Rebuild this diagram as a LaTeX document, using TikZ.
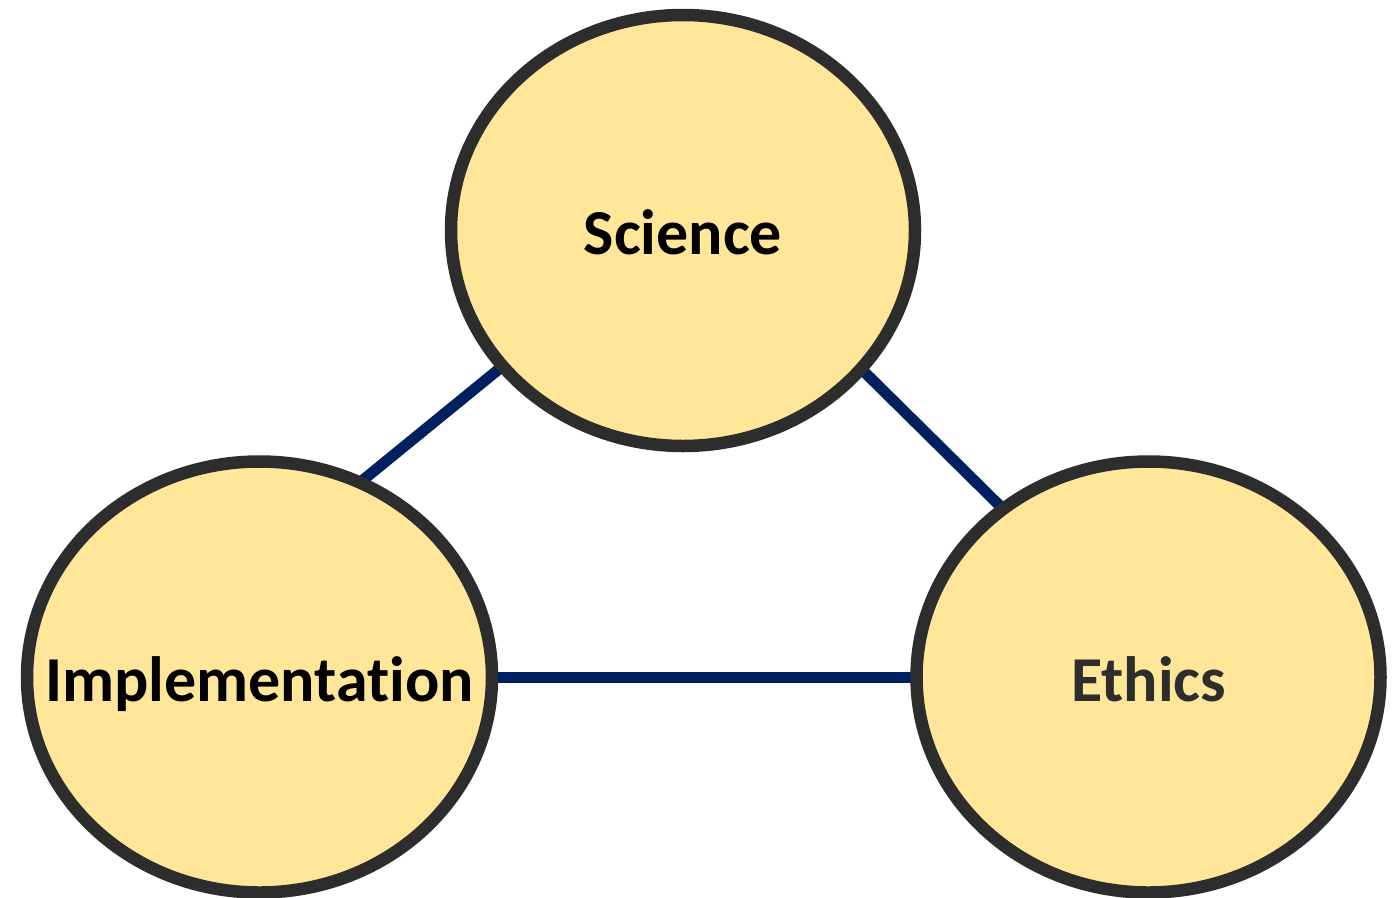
\documentclass[tikz,border=0pt]{standalone}
\usepackage{fontspec}
\setmainfont[Ligatures=NoCommon]{Carlito}
\usetikzlibrary{shapes.geometric,backgrounds}
\definecolor{goldfill}{HTML}{FFE699}
\definecolor{rimgray}{HTML}{2D2D2D}
\definecolor{navy}{HTML}{002060}
\definecolor{txtgray}{HTML}{2D2D2D}
\newcommand{\bubtext}[1]{\makebox[0pt][c]{#1}}
\tikzset{
  bubble/.style={ellipse, draw=rimgray, fill=goldfill, line width=12.5pt,
    minimum width=464pt, minimum height=431pt, inner sep=0pt,
    text height=48pt, text depth=0pt,
    font=\fontsize{64}{70}\selectfont\bfseries},
  link/.style={draw=navy, line width=11pt, shorten <=-8pt, shorten >=-8pt}
}
\begin{document}
\begin{tikzpicture}[x=1pt,y=-1pt]
\useasboundingbox (0,0) rectangle (1397,897);
\node[bubble] (sci) at (683,230.5) {\bubtext{Science}};
\node[bubble, minimum width=465pt] (imp) at (259.5,677) {\bubtext{Implementation}};
\node[bubble, text=txtgray] (eth) at (1148.5,677) {\bubtext{Ethics}};
\begin{pgfonlayer}{background}
\draw[link] (sci.217) -- (imp.62);
\draw[link] (sci.322.6) -- (eth.131);
\draw[link] (imp.east) -- (eth.west);
\end{pgfonlayer}
\end{tikzpicture}
\end{document}
